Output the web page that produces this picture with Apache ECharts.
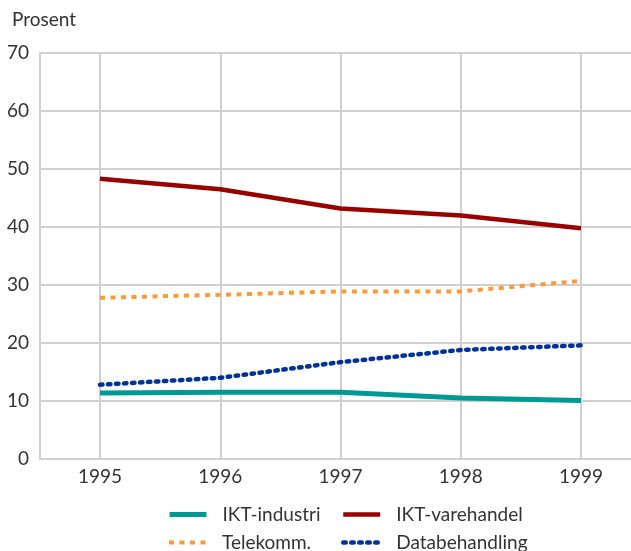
<!DOCTYPE html>
<html>
<head>
<meta charset="utf-8">
<script src="https://cdn.jsdelivr.net/npm/echarts@6/dist/echarts.min.js"></script>
<style>
html,body{margin:0;padding:0;background:#fff;}
#chart{width:631px;height:551px;}
</style>
</head>
<body>
<div id="chart"></div>
<script>
const years = ['1995', '1996', '1997', '1998', '1999'];
const iktIndustri = [11.4, 11.5, 11.5, 10.5, 10.1];
const iktVarehandel = [48.3, 46.5, 43.2, 42.0, 39.8];
const telekomm = [27.8, 28.3, 28.9, 28.9, 30.7];
const databehandling = [12.8, 14.0, 16.7, 18.8, 19.6];
const yTicks = [0, 10, 20, 30, 40, 50, 60, 70];
const yAxisTitle = 'Prosent';
const seriesNames = ['IKT-industri', 'IKT-varehandel', 'Telekomm.', 'Databehandling'];

const FONT = 'Lato, "Open Sans", sans-serif';
const TXT = '#333333';
const GRID = '#d0d0d0';

const styles = [
  { color: '#009a94', width: 5, type: 'solid', cap: 'butt' },
  { color: '#990000', width: 4.5, type: 'solid', cap: 'butt' },
  { color: '#ff9933', width: 4, type: [5, 5.5], cap: 'butt' },
  { color: '#003399', width: 4.5, type: [2.5, 5.5], cap: 'round' }
];
const legendPos = [
  { left: 167, top: 505 }, { left: 341, top: 505 },
  { left: 167, top: 533 }, { left: 341, top: 533 }
];

const chart = echarts.init(document.getElementById('chart'));
chart.setOption({
  animation: false,
  backgroundColor: '#ffffff',
  textStyle: { fontFamily: FONT },
  title: {
    text: yAxisTitle, left: 7, top: 5,
    textStyle: { fontFamily: FONT, fontSize: 19, fontWeight: 'normal', color: TXT }
  },
  grid: [
    { left: 40, right: 0, top: 53, bottom: 92 },
    { left: 100, right: 50, top: 53, bottom: 92 }
  ],
  xAxis: [
    { type: 'value', gridIndex: 0, min: 0, max: 1,
      axisLine: { show: true, lineStyle: { color: GRID, width: 2 } },
      axisTick: { show: false }, axisLabel: { show: false }, splitLine: { show: false } },
    { type: 'category', gridIndex: 1, data: years, boundaryGap: false,
      axisLine: { show: false }, axisTick: { show: false },
      axisLabel: { fontFamily: FONT, fontSize: 19, color: TXT, margin: 8 },
      splitLine: { show: true, lineStyle: { color: GRID, width: 2 } } }
  ],
  yAxis: [
    { type: 'value', gridIndex: 0, min: yTicks[0], max: yTicks[yTicks.length - 1], interval: 10,
      axisLine: { show: true, lineStyle: { color: GRID, width: 2 } },
      axisTick: { show: false },
      axisLabel: { fontFamily: FONT, fontSize: 19, color: TXT, margin: 11 },
      splitLine: { show: true, lineStyle: { color: GRID, width: 2 } } },
    { type: 'value', gridIndex: 1, min: yTicks[0], max: yTicks[yTicks.length - 1], interval: 10,
      show: false, splitLine: { show: false } }
  ],
  legend: seriesNames.map((n, i) => ({
    data: [n], left: legendPos[i].left, top: legendPos[i].top, padding: 0,
    itemWidth: 37, itemHeight: 12,
    itemStyle: { opacity: 0 },
    lineStyle: { width: styles[i].width, type: styles[i].type, cap: styles[i].cap, color: styles[i].color },
    textStyle: { fontFamily: FONT, fontSize: 19, color: TXT, padding: [0, 0, 0, 11] }
  })),
  series: [iktIndustri, iktVarehandel, telekomm, databehandling].map((d, i) => ({
    name: seriesNames[i], type: 'line', xAxisIndex: 1, yAxisIndex: 1, data: d,
    symbol: 'none', color: styles[i].color,
    lineStyle: { color: styles[i].color, width: styles[i].width, type: styles[i].type, cap: styles[i].cap }
  }))
});
</script>
</body>
</html>
